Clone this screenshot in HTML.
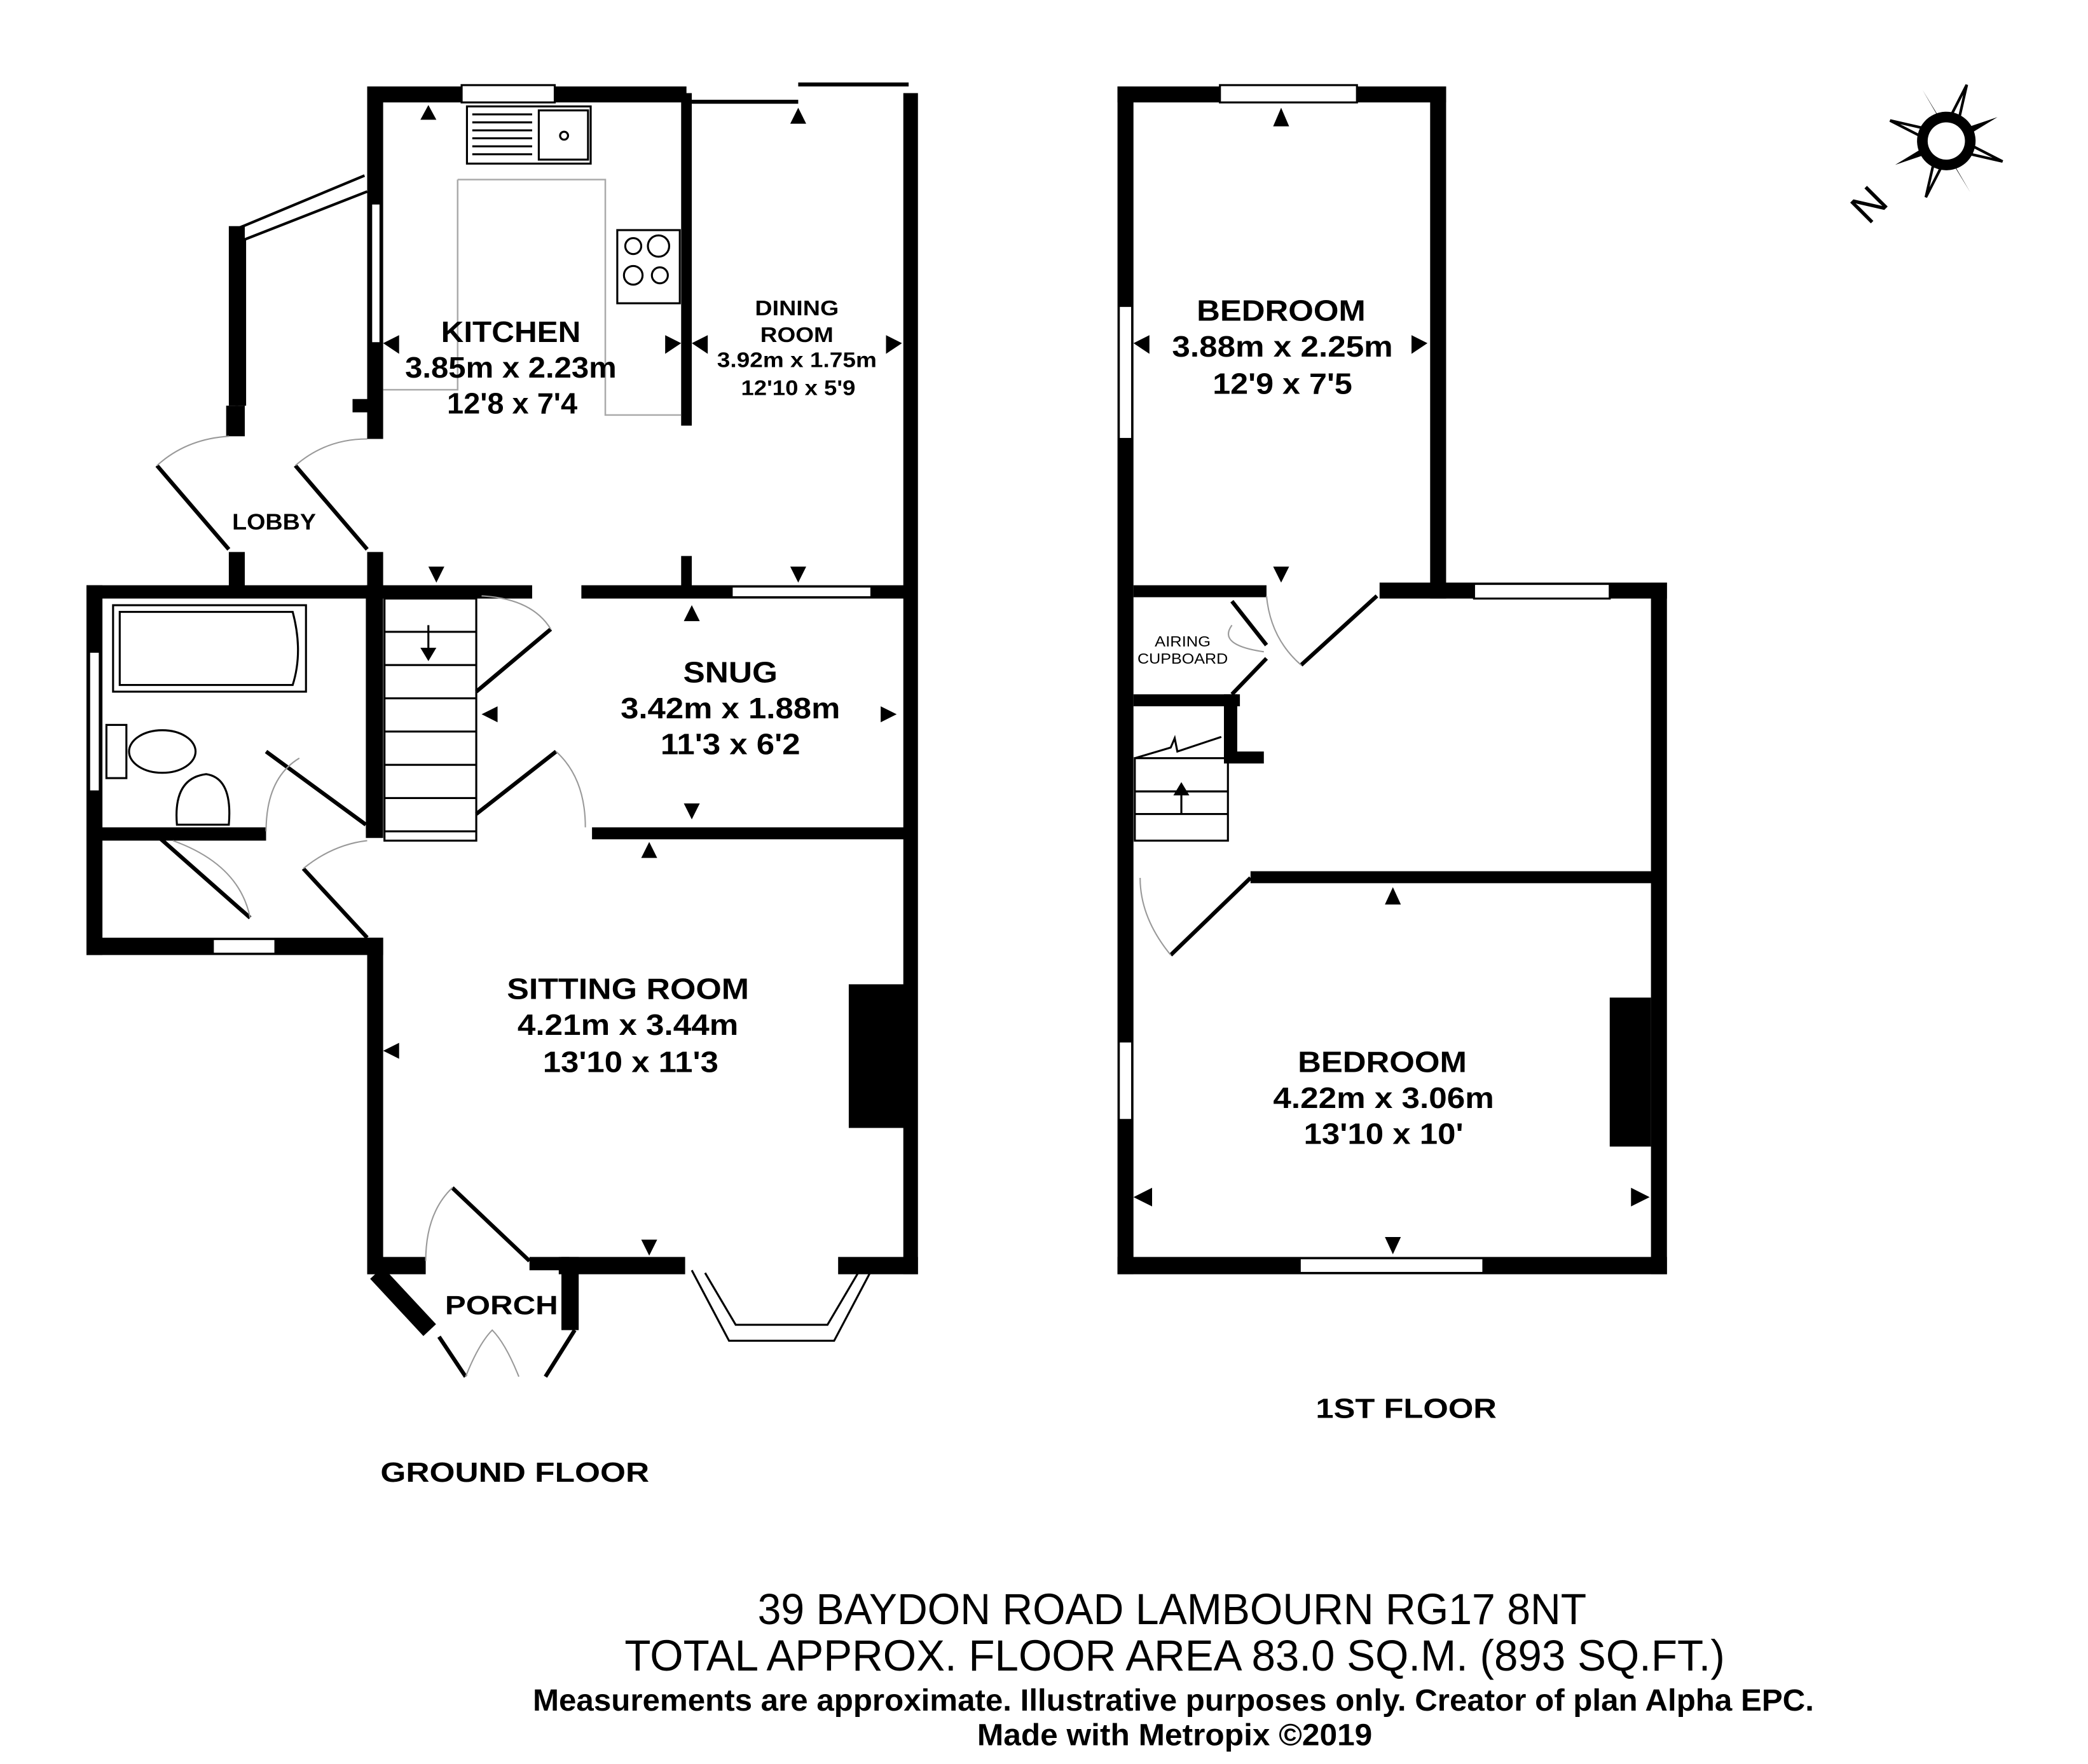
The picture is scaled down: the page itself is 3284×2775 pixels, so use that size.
<!DOCTYPE html>
<html><head><meta charset="utf-8"><style>html,body{margin:0;padding:0;background:#fff}svg{display:block}text{font-family:"Liberation Sans",Arial,sans-serif;fill:#000}</style></head>
<body>
<svg width="3284" height="2775" viewBox="0 0 1569.5 1326.2" preserveAspectRatio="none" xmlns="http://www.w3.org/2000/svg">
<rect width="1570" height="1327" fill="#fff"/>
<g fill="#000">
<rect x="276" y="65" width="240" height="12"/>
<rect x="276" y="65" width="12" height="265"/>
<rect x="265" y="300" width="14" height="10"/>
<rect x="512" y="70" width="8" height="250"/>
<rect x="520" y="75" width="80" height="3"/>
<rect x="600" y="62" width="83" height="3"/>
<rect x="679" y="70" width="11" height="888"/>
<rect x="172" y="170" width="12" height="135"/>
<rect x="170" y="305" width="14" height="23"/>
<rect x="172" y="415" width="12" height="30"/>
<rect x="276" y="415" width="12" height="30"/>
<rect x="65" y="440" width="335" height="10"/>
<rect x="437" y="440" width="243" height="10"/>
<rect x="512" y="418" width="8" height="25"/>
<rect x="445" y="622" width="235" height="9"/>
<rect x="65" y="440" width="12" height="278"/>
<rect x="65" y="622" width="135" height="10"/>
<rect x="275" y="440" width="13" height="190"/>
<rect x="65" y="705" width="223" height="13"/>
<rect x="276" y="705" width="12" height="253"/>
<rect x="276" y="945" width="44" height="13"/>
<rect x="398" y="945" width="30" height="10"/>
<rect x="420" y="945" width="95" height="13"/>
<rect x="630" y="945" width="60" height="13"/>
<rect x="422" y="945" width="13" height="55"/>
<rect x="638" y="740" width="42" height="108"/>
<rect x="840" y="65" width="247" height="12"/>
<rect x="840" y="65" width="12" height="893"/>
<rect x="1075" y="65" width="12" height="385"/>
<rect x="852" y="440" width="100" height="9"/>
<rect x="1037" y="438" width="216" height="12"/>
<rect x="1241" y="438" width="12" height="520"/>
<rect x="940" y="655" width="305" height="9"/>
<rect x="840" y="945" width="413" height="13"/>
<rect x="1210" y="750" width="31" height="112"/>
<rect x="852" y="522" width="80" height="9"/>
<rect x="920" y="522" width="10" height="48"/>
<rect x="920" y="565" width="30" height="9"/>
</g>
<g fill="#fff" stroke="#000" stroke-width="1.5">
<rect x="347" y="64" width="70" height="13"/>
<rect x="279" y="153" width="7" height="105"/>
<rect x="550" y="441" width="105" height="8"/>
<rect x="67" y="490" width="8" height="105"/>
<rect x="160" y="706" width="47" height="11"/>
<rect x="917" y="64" width="103" height="13"/>
<rect x="841" y="230" width="10" height="100"/>
<rect x="1108" y="439" width="102" height="11"/>
<rect x="841" y="783" width="10" height="59"/>
<rect x="977" y="946" width="138" height="11"/>
</g>
<g stroke="#000" fill="none">
<path d="M178 172 L274 132 M184 180 L276 144" stroke-width="2"/>
<path d="M178 172 L178 305 M184 180 L184 305" stroke-width="2"/>
<path d="M520 955 L548 1008 L627 1008 L655 955" stroke-width="1.5"/>
<path d="M530 957 L553 996 L622 996 L645 957" stroke-width="1.5"/>
<path d="M283 957 L323 1000" stroke-width="13"/>
<path d="M330 1005 L350 1035 M410 1035 L432 1000" stroke-width="3"/>
<path d="M350 1035 Q360 1010 370 1000 Q380 1010 390 1035" stroke="#999" stroke-width="1"/>
</g>
<g stroke="#000" stroke-width="3" fill="none">
<path d="M118 350 L172 413"/><path d="M222 350 L276 413"/>
<path d="M120 630 L188 690"/><path d="M228 653 L276 705"/>
<path d="M200 565 L275 620"/><path d="M340 893 L398 948"/>
<path d="M358 612 L418 565"/><path d="M358 520 L414 473"/>
<path d="M978 500 L1035 448"/><path d="M926 452 L952 485"/><path d="M926 522 L952 495"/>
<path d="M880 718 L940 660"/>
</g>
<g stroke="#999" stroke-width="1" fill="none">
<path d="M118 350 Q140 330 172 328"/><path d="M222 350 Q245 330 276 330"/>
<path d="M188 690 Q180 650 130 632"/><path d="M228 653 Q250 635 276 632"/>
<path d="M200 625 Q200 585 225 570"/><path d="M320 948 Q320 912 340 893"/>
<path d="M418 565 Q440 585 440 622"/><path d="M414 473 Q400 450 362 448"/>
<path d="M978 500 Q955 480 952 448"/><path d="M926 470 Q915 485 950 490"/>
<path d="M880 718 Q857 690 857 660"/>
</g>
<g stroke="#000" stroke-width="1.5" fill="none">
<rect x="289" y="450" width="69" height="182"/>
<path d="M289 475H358M289 500H358M289 525H358M289 550H358M289 575H358M289 600H358M289 625H358"/>
<path d="M322 470 V490"/>
<rect x="853" y="570" width="70" height="62"/>
<path d="M853 595H923M853 612H923M888 612V592"/>
<path d="M853 570 L880 562 L883 555 L885 565 L918 554"/>
<path d="M85 455 H230 V520 H85 Z M90 460 H220 Q228 490 220 515 H90 Z"/>
<rect x="80" y="545" width="15" height="40"/>
<ellipse cx="122" cy="565" rx="25" ry="16"/>
<path d="M133 620 Q130 585 155 582 Q175 585 172 620 Z"/>
<rect x="351" y="80" width="93" height="43"/>
<path d="M355 86H400M355 92H400M355 98H400M355 104H400M355 110H400M355 116H400"/>
<rect x="405" y="83" width="37" height="37"/><circle cx="424" cy="102" r="3"/>
<rect x="464" y="173" width="47" height="55"/>
<circle cx="476" cy="185" r="6"/><circle cx="495" cy="185" r="8"/><circle cx="476" cy="207" r="7"/><circle cx="496" cy="207" r="6"/>
</g>
<g stroke="#aaa" stroke-width="1.2" fill="none">
<path d="M344 135 H455 V312 H512 M344 135 V293 H288"/>
</g>
<g fill="#000">
<path d="M316 80 L328 80 L322 91Z" transform="rotate(180 322 85)"/>
<path d="M316 487 L328 487 L322 497Z"/>
<path d="M882 598 L894 598 L888 588Z"/>
<path d="M594 93 L600 81 L606 93Z"/>
<path d="M288 258 L300 252 L300 266Z"/><path d="M512 258 L500 252 L500 266Z"/>
<path d="M520 258 L532 252 L532 266Z"/><path d="M678 258 L666 252 L666 266Z"/>
<path d="M322 426 L334 426 L328 438Z"/><path d="M594 426 L606 426 L600 438Z"/>
<path d="M514 467 L526 467 L520 455Z"/><path d="M514 604 L526 604 L520 616Z"/>
<path d="M362 537 L374 531 L374 543Z"/><path d="M674 537 L662 531 L662 543Z"/>
<path d="M482 645 L494 645 L488 633Z"/><path d="M288 790 L300 784 L300 796Z"/>
<path d="M482 932 L494 932 L488 944Z"/>
<path d="M957 95 L969 95 L963 81Z"/>
<path d="M852 258 L864 252 L864 266Z"/><path d="M1073 258 L1061 252 L1061 266Z"/>
<path d="M957 426 L969 426 L963 438Z"/><path d="M1041 680 L1053 680 L1047 667Z"/>
<path d="M852 900 L866 893 L866 907Z"/><path d="M1240 900 L1226 893 L1226 907Z"/>
<path d="M1041 930 L1053 930 L1047 943Z"/>
</g>
<g transform="translate(1463,106) rotate(20)">
<path d="M-5 -5 L0 -45 L5 -5 L45 0 L5 5 L0 45 L-5 5 L-45 0Z" fill="#fff" stroke="#000" stroke-width="2"/>
<path d="M-30 -30 L0 -6 L6 0 Z M30 30 L0 6 L-6 0Z M30 -30 L6 0 L0 -6Z M-30 30 L-6 0 L0 6Z" fill="#000"/>
<circle r="22" fill="#000"/><circle r="14" fill="#fff"/>
</g>
<text x="1390" y="165" font-size="32" transform="rotate(-45 1403 150)">N</text>
<g text-anchor="middle" font-weight="bold" lengthAdjust="spacingAndGlyphs">
<text x="384" y="257" font-size="22" textLength="105" lengthAdjust="spacingAndGlyphs">KITCHEN</text>
<text x="384" y="284" font-size="22" textLength="159" lengthAdjust="spacingAndGlyphs">3.85m x 2.23m</text>
<text x="385" y="311" font-size="22" textLength="98" lengthAdjust="spacingAndGlyphs">12'8 x 7'4</text>
<text x="599" y="237" font-size="16" textLength="63" lengthAdjust="spacingAndGlyphs">DINING</text>
<text x="599" y="257" font-size="16" textLength="55" lengthAdjust="spacingAndGlyphs">ROOM</text>
<text x="599" y="276" font-size="16" textLength="120" lengthAdjust="spacingAndGlyphs">3.92m x 1.75m</text>
<text x="600" y="297" font-size="16" textLength="86" lengthAdjust="spacingAndGlyphs">12'10 x 5'9</text>
<text x="206" y="398" font-size="17" textLength="63" lengthAdjust="spacingAndGlyphs">LOBBY</text>
<text x="549" y="513" font-size="22" textLength="71" lengthAdjust="spacingAndGlyphs">SNUG</text>
<text x="549" y="540" font-size="22" textLength="165" lengthAdjust="spacingAndGlyphs">3.42m x 1.88m</text>
<text x="549" y="567" font-size="22" textLength="105" lengthAdjust="spacingAndGlyphs">11'3 x 6'2</text>
<text x="472" y="751" font-size="22" textLength="182" lengthAdjust="spacingAndGlyphs">SITTING ROOM</text>
<text x="472" y="778" font-size="22" textLength="166" lengthAdjust="spacingAndGlyphs">4.21m x 3.44m</text>
<text x="474" y="806" font-size="22" textLength="132" lengthAdjust="spacingAndGlyphs">13'10 x 11'3</text>
<text x="377" y="988" font-size="20" textLength="85" lengthAdjust="spacingAndGlyphs">PORCH</text>
<text x="387" y="1114" font-size="21" textLength="202" lengthAdjust="spacingAndGlyphs">GROUND FLOOR</text>
<text x="963" y="241" font-size="22" textLength="127" lengthAdjust="spacingAndGlyphs">BEDROOM</text>
<text x="964" y="268" font-size="22" textLength="166" lengthAdjust="spacingAndGlyphs">3.88m x 2.25m</text>
<text x="964" y="296" font-size="22" textLength="105" lengthAdjust="spacingAndGlyphs">12'9 x 7'5</text>
<text x="889" y="486" font-size="11" font-weight="normal" textLength="42" lengthAdjust="spacingAndGlyphs">AIRING</text>
<text x="889" y="499" font-size="11" font-weight="normal" textLength="68" lengthAdjust="spacingAndGlyphs">CUPBOARD</text>
<text x="1039" y="806" font-size="22" textLength="127" lengthAdjust="spacingAndGlyphs">BEDROOM</text>
<text x="1040" y="833" font-size="22" textLength="166" lengthAdjust="spacingAndGlyphs">4.22m x 3.06m</text>
<text x="1040" y="860" font-size="22" textLength="120" lengthAdjust="spacingAndGlyphs">13'10 x 10'</text>
<text x="1057" y="1066" font-size="21" textLength="136" lengthAdjust="spacingAndGlyphs">1ST FLOOR</text>
<text x="881" y="1221" font-size="33" font-weight="normal" textLength="623" lengthAdjust="spacingAndGlyphs">39 BAYDON ROAD LAMBOURN RG17 8NT</text>
<text x="883" y="1256" font-size="33" font-weight="normal" textLength="827" lengthAdjust="spacingAndGlyphs">TOTAL APPROX. FLOOR AREA 83.0 SQ.M. (893 SQ.FT.)</text>
<text x="882" y="1286" font-size="23" textLength="963" lengthAdjust="spacingAndGlyphs">Measurements are approximate. Illustrative purposes only. Creator of plan Alpha EPC.</text>
<text x="883" y="1312" font-size="23" textLength="297" lengthAdjust="spacingAndGlyphs">Made with Metropix ©2019</text>
</g>
</svg>
</body></html>
